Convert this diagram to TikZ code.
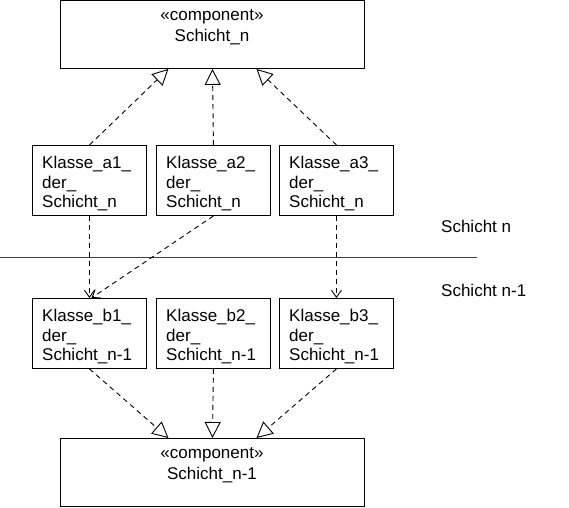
\documentclass[tikz,border=0pt]{standalone}
\usepackage{fontspec}
\setmainfont{Liberation Sans}
\usetikzlibrary{arrows.meta,calc}
\tikzset{
  x=1pt, y=-1pt,
  box/.style={draw=black, line width=0.9pt, rectangle, minimum width=114pt, minimum height=70pt, anchor=north west, inner sep=0pt},
  bigbox/.style={draw=black, line width=0.9pt, rectangle, minimum width=304pt, minimum height=68pt, anchor=north west, inner sep=0pt},
  txt/.style={font=\fontsize{17}{19.5}\selectfont, align=left, anchor=north west, inner sep=0pt},
  ctxt/.style={font=\fontsize{17}{21}\selectfont, align=center, anchor=north, inner sep=0pt},
  dep/.style={dash pattern=on 5pt off 4pt, line width=0.9pt},
  realiz/.style={dep, -{Triangle[open,length=16pt,width=16pt,line width=0.9pt]}},
  usedep/.style={dep, -{Straight Barb[length=7pt,width=10pt,line width=0.9pt]}},
}
\begin{document}
\begin{tikzpicture}
\useasboundingbox (0,0) rectangle (569,507);
% big boxes
\node[bigbox] (top) at (60,0) {};
\node[ctxt] (toptxt) at (212,9) {«component»\\Schicht\_n};
\node[bigbox] (bot) at (60,438) {};
\node[ctxt] (bottxt) at (212,447) {«component»\\Schicht\_n-1};
% layer n classes
\node[box] (a1) at (32,145) {};
\node[txt] (a1t) at (42,156) {Klasse\_a1\_\\der\_\\Schicht\_n};
\node[box] (a2) at (156,145) {};
\node[txt] (a2t) at (166,156) {Klasse\_a2\_\\der\_\\Schicht\_n};
\node[box] (a3) at (279,145) {};
\node[txt] (a3t) at (289,156) {Klasse\_a3\_\\der\_\\Schicht\_n};
% layer n-1 classes
\node[box] (b1) at (32,298) {};
\node[txt] (b1t) at (42,309) {Klasse\_b1\_\\der\_\\Schicht\_n-1};
\node[box] (b2) at (156,298) {};
\node[txt] (b2t) at (166,309) {Klasse\_b2\_\\der\_\\Schicht\_n-1};
\node[box] (b3) at (279,298) {};
\node[txt] (b3t) at (289,309) {Klasse\_b3\_\\der\_\\Schicht\_n-1};
% separator
\coordinate (l0) at (0,257);
\coordinate (l1) at (477,257);
\draw[line width=0.9pt, black!75] (l0) -- (l1);
\node[txt, anchor=west] (ln) at (441,226) {Schicht n};
\node[txt, anchor=west] (ln1) at (441,290) {Schicht n-1};
% realizations
\draw[realiz] (a1.north) -- ([xshift=-44pt]top.south);
\draw[realiz] (a2.north) -- (top.south);
\draw[realiz] (a3.north) -- ([xshift=44pt]top.south);
\draw[realiz] (b1.south) -- ([xshift=-44pt]bot.north);
\draw[realiz] (b2.south) -- (bot.north);
\draw[realiz] (b3.south) -- ([xshift=44pt]bot.north);
% dependencies
\draw[usedep] (a1.south) -- (b1.north);
\draw[usedep] (a2.south) -- ([xshift=2pt]b1.north);
\draw[usedep] (a3.south) -- (b3.north);
\end{tikzpicture}
\end{document}
